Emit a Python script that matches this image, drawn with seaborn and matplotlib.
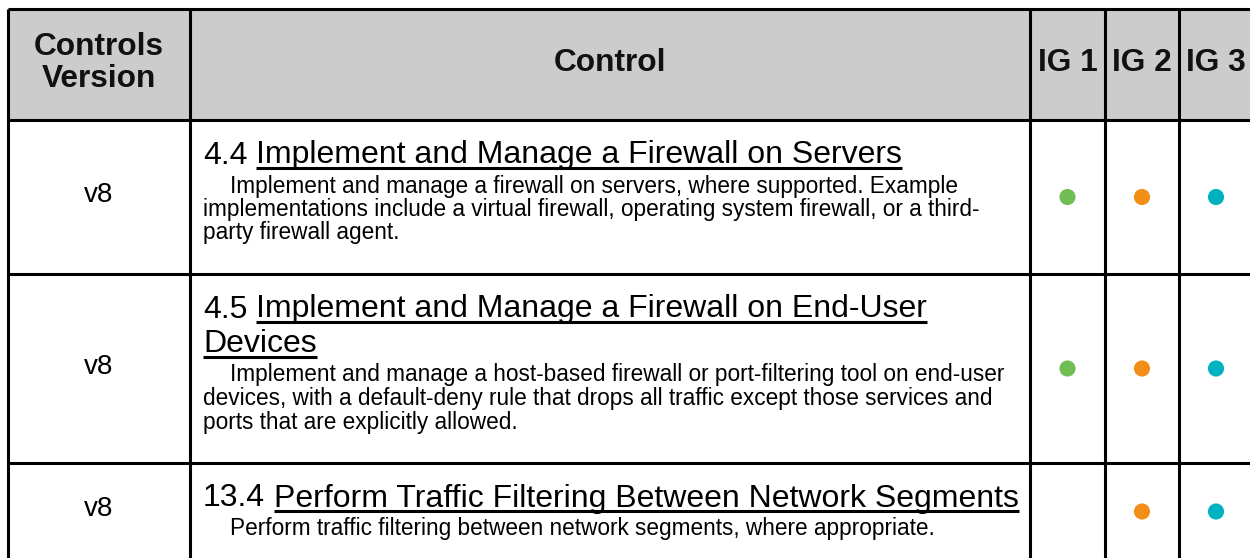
import pandas as pd
import seaborn as sns
import matplotlib.pyplot as plt

sns.set_theme(style="white")
plt.rcParams['font.family'] = ['Liberation Sans', 'DejaVu Sans']

# table content
header = ["Controls\nVersion", "Control", "IG 1", "IG 2", "IG 3"]
versions = ["v8", "v8", "v8"]
control_ids = ["4.4", "4.5", "13.4"]
control_titles = [
    ["Implement and Manage a Firewall on Servers"],
    ["Implement and Manage a Firewall on End-User", "Devices"],
    ["Perform Traffic Filtering Between Network Segments"],
]
descriptions = [
    ["Implement and manage a firewall on servers, where supported. Example",
     "implementations include a virtual firewall, operating system firewall, or a third-",
     "party firewall agent."],
    ["Implement and manage a host-based firewall or port-filtering tool on end-user",
     "devices, with a default-deny rule that drops all traffic except those services and",
     "ports that are explicitly allowed."],
    ["Perform traffic filtering between network segments, where appropriate."],
]
ig1 = [True, True, False]
ig2 = [True, True, True]
ig3 = [True, True, True]
ig_colors = {"IG 1": "#70bd54", "IG 2": "#f28d17", "IG 3": "#00b1c1"}

# layout in pixels
W, H = 1250, 558
col_edges = [8, 190, 1030, 1105, 1179, 1253]
row_edges = [9, 120, 274, 463, 572]
grid_lw = 2.2
title_pt, desc_pt, head_pt, ver_pt = 23, 16.3, 22.8, 20

fig = plt.figure(figsize=(W / 100, H / 100), dpi=100)
ax = fig.add_axes([0, 0, 1, 1])
ax.set_xlim(0, W)
ax.set_ylim(H, 0)
ax.axis("off")

col_mid = [(a + b) / 2 for a, b in zip(col_edges[:-1], col_edges[1:])]
row_mid = [(a + b) / 2 for a, b in zip(row_edges[:-1], row_edges[1:])]
row_mid[-1] = 511.5

# header background + grid
ax.axhspan(row_edges[0], row_edges[1], xmin=col_edges[0] / W, xmax=1, color="#cccccc", zorder=0)
ax.hlines(row_edges[:-1], col_edges[0], W, color="black", lw=grid_lw, zorder=3)
ax.vlines(col_edges[:-1], row_edges[0], H, color="black", lw=grid_lw, zorder=3)

for i, h in enumerate(header):
    ax.text(col_mid[i], 63, h, ha="center", va="center", fontsize=head_pt,
            fontweight="bold", linespacing=1.12, color="#111111")

for r, v in enumerate(versions):
    ax.text(col_mid[0], row_mid[r + 1] - 2, v, ha="center", va="center", fontsize=ver_pt, color="black")

fig.canvas.draw()
renderer = fig.canvas.get_renderer()
inv = ax.transData.inverted()


def right_edge(t):
    bb = t.get_window_extent(renderer)
    return inv.transform((bb.x1, bb.y0))[0]


x_text = 203
for r in range(len(control_ids)):
    top = row_edges[r + 1]
    base = top + 43.5
    t = ax.text(x_text, base, control_ids[r], ha="left", va="baseline", fontsize=title_pt, color="black")
    x0 = right_edge(t) + 0.278 * title_pt * 100 / 72
    for k, line in enumerate(control_titles[r]):
        xs = x0 if k == 0 else x_text
        t = ax.text(xs, base, line, ha="left", va="baseline", fontsize=title_pt, color="black")
        ax.plot([xs, right_edge(t)], [base + 4.5, base + 4.5], color="black", lw=2.2,
                solid_capstyle="butt")
        if k < len(control_titles[r]) - 1:
            base += 35
    base += 29
    for k, line in enumerate(descriptions[r]):
        xs = 230 if k == 0 else x_text
        ax.text(xs, base, line, ha="left", va="baseline", fontsize=desc_pt, color="black")
        base += 23.5

# implementation group dots
rows = []
for r in range(len(versions)):
    for name, flags in zip(["IG 1", "IG 2", "IG 3"], [ig1, ig2, ig3]):
        if flags[r]:
            rows.append({"x": col_mid[2 + ["IG 1", "IG 2", "IG 3"].index(name)],
                         "y": row_mid[r + 1], "ig": name})
dots = pd.DataFrame(rows)
sns.scatterplot(data=dots, x="x", y="y", hue="ig", palette=ig_colors, s=135,
                linewidth=0, legend=False, ax=ax, zorder=4)
ax.set_xlim(0, W)
ax.set_ylim(H, 0)
ax.axis("off")

fig.savefig("out.png", dpi=100, facecolor="white")
